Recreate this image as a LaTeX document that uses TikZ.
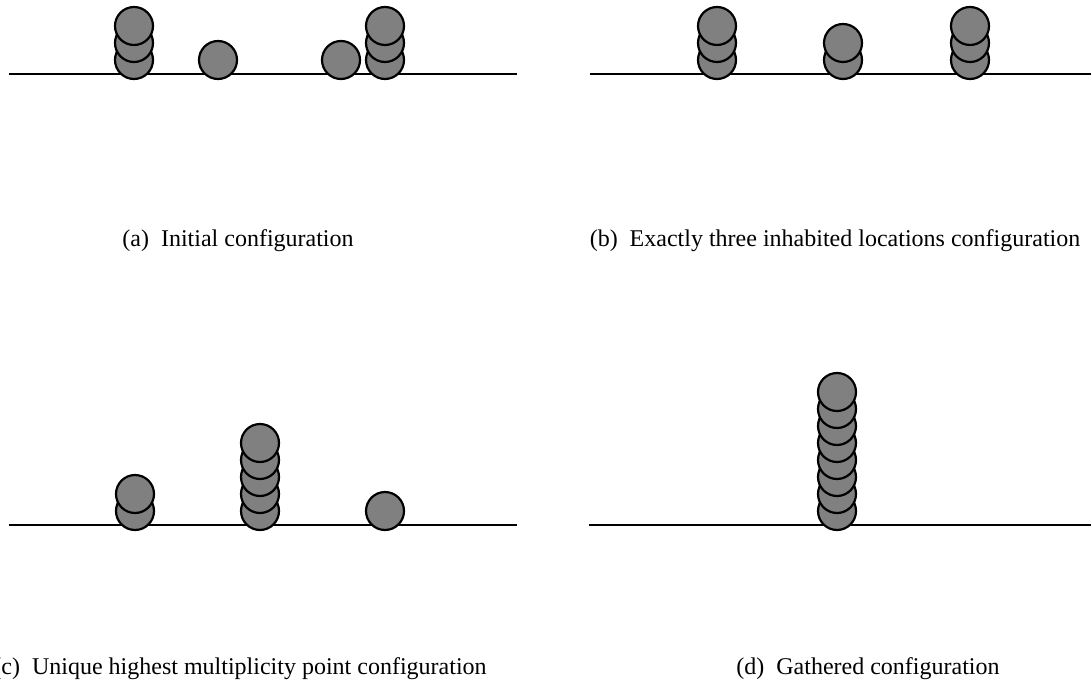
\documentclass[tikz,border=0pt]{standalone}
\usepackage{fontspec}
\setmainfont{Liberation Serif}
\usetikzlibrary{positioning}

% one stack of robots standing on the line: x, line y, count
\newcommand{\robotstack}[3]{%
  \foreach \k in {1,...,#3}
    \draw[robot] (#1,{#2-14-17*(\k-1)}) circle[radius=19pt];
}

\begin{document}
\begin{tikzpicture}[x=1pt,y=-1pt,
  robot/.style={fill=black!50, draw=black, line width=2.2pt},
  ground/.style={line width=2.4pt},
  caption/.style={font=\fontsize{24}{28}\selectfont, inner sep=0pt}]
\useasboundingbox (0,0) rectangle (1091,687);

% (a) initial configuration
\draw[ground] (9,74) -- (517,74);
\robotstack{134}{74}{3}
\robotstack{218}{74}{1}
\robotstack{341}{74}{1}
\robotstack{385}{74}{3}
\node[caption] (capa) at (238,241) {(a)\enspace Initial configuration};

% (b) three inhabited locations
\draw[ground] (590,74) -- (1091,74);
\robotstack{717}{74}{3}
\robotstack{843}{74}{2}
\robotstack{970}{74}{3}
\node[caption] (capb) at (835,241) {(b)\enspace Exactly three inhabited locations configuration};

% (c) unique highest multiplicity point
\draw[ground] (9,525) -- (517,525);
\robotstack{135}{525}{2}
\robotstack{260}{525}{5}
\robotstack{385}{525}{1}
\node[caption] (capc) at (240,669) {(c)\enspace Unique highest multiplicity point configuration};

% (d) gathered
\draw[ground] (589,525) -- (1091,525);
\robotstack{837}{525}{8}
\node[caption] (capd) at (868,669) {(d)\enspace Gathered configuration};
\end{tikzpicture}
\end{document}
